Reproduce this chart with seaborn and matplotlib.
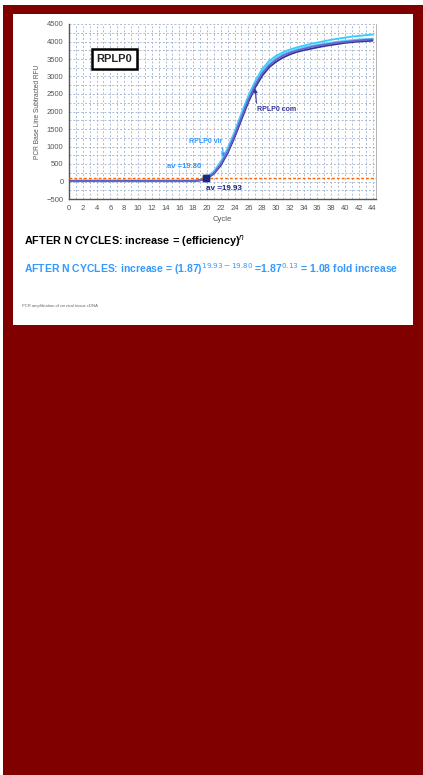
import numpy as np
import pandas as pd
import matplotlib
matplotlib.use("Agg")
import matplotlib.pyplot as plt
from matplotlib.patches import Rectangle
from matplotlib.ticker import MultipleLocator
import seaborn as sns

# Cycle numbers and baseline-subtracted RFU
cycles = list(range(0, 45))
vir1 = [30] * 19 + [50, 130, 290, 570, 950, 1420, 1950, 2450, 2870, 3210, 3440, 3590, 3690,
                    3770, 3830, 3880, 3930, 3970, 4010, 4050, 4080, 4110, 4140, 4160, 4180, 4200]
vir2 = [20] * 19 + [45, 120, 275, 545, 910, 1370, 1890, 2380, 2800, 3140, 3380, 3540, 3640,
                    3720, 3780, 3830, 3870, 3910, 3940, 3970, 4000, 4020, 4040, 4060, 4070, 4080]
com1 = [10] * 19 + [30, 90, 220, 460, 810, 1260, 1770, 2270, 2690, 3020, 3260, 3420, 3540,
                    3630, 3700, 3750, 3790, 3830, 3870, 3900, 3930, 3960, 3980, 4000, 4010, 4020]
com2 = [10] * 19 + [35, 100, 240, 500, 860, 1320, 1840, 2340, 2760, 3090, 3320, 3480, 3600,
                    3680, 3740, 3790, 3840, 3880, 3910, 3940, 3970, 3990, 4010, 4030, 4050, 4060]
seriesNames = ["RPLP0 vir 1", "RPLP0 vir 2", "RPLP0 com 1", "RPLP0 com 2"]
seriesColors = ["#33ccff", "#66ccff", "#333399", "#6666cc"]

threshold = 100
ctVir = 19.80
ctCom = 19.93
yTicks = list(range(-500, 5000, 500))
xTicks = list(range(0, 46, 2))

# long format for seaborn
rows = []
for name, vals in zip(seriesNames, [vir1, vir2, com1, com2]):
    for c, v in zip(cycles, vals):
        rows.append({"Cycle": c, "RFU": v, "Series": name})
df = pd.DataFrame(rows)

sns.set_style("white")
plt.rcParams['font.family'] = ['Liberation Sans', 'DejaVu Sans']

fig = plt.figure(figsize=(4.23, 7.75), dpi=100)
fig.patch.set_facecolor("white")

# dark red page and white panel behind the chart
fig.patches.append(Rectangle((3 / 423, 0), 1, 1 - 5 / 775, transform=fig.transFigure,
                             facecolor="#800000", edgecolor="none", zorder=-2))
fig.patches.append(Rectangle((13 / 423, 1 - 325 / 775), 400 / 423, 311 / 775,
                             transform=fig.transFigure, facecolor="white",
                             edgecolor="none", zorder=-1))

ax = fig.add_axes([69 / 423, 1 - 199 / 775, 307 / 423, 175 / 775])
ax.set_facecolor("white")

sns.lineplot(data=df, x="Cycle", y="RFU", hue="Series",
             palette=dict(zip(seriesNames, seriesColors)), linewidth=1.3,
             legend=False, ax=ax)

ax.set_xlim(0, 44.5)
ax.set_ylim(-500, 4500)
ax.set_xticks([t for t in xTicks if t <= 44])
ax.set_yticks(yTicks)
ax.xaxis.set_minor_locator(MultipleLocator(1))
ax.yaxis.set_minor_locator(MultipleLocator(250))
ax.grid(which="both", color="#aabbd4", linestyle=(0, (2, 2)), linewidth=0.7)
ax.set_axisbelow(True)
ax.tick_params(axis="both", which="major", labelsize=5.5, colors="#555555",
               length=2, width=0.6, pad=2)
ax.tick_params(axis="both", which="minor", length=0)
for side in ["left", "bottom"]:
    ax.spines[side].set_color("#555555")
    ax.spines[side].set_linewidth(1.0)
ax.spines["top"].set_visible(False)
ax.spines["right"].set_color("#aaaaaa")
ax.spines["right"].set_linewidth(0.6)
ax.set_xlabel("Cycle", fontsize=5.5, color="#555555", labelpad=3)
ax.set_ylabel("PCR Base Line Subtracted RFU", fontsize=4.8, color="#555555", labelpad=4)

# threshold line and Ct markers
ax.axhline(threshold, color="#ff6600", linestyle=(0, (2, 1.5)), linewidth=1.0, zorder=3)
ax.plot([ctVir, ctCom], [threshold, threshold], marker="s", markersize=4,
        color="#1a2a80", linestyle="none", zorder=5)

ax.text(6.6, 3490, "RPLP0", fontsize=8, fontweight="bold", ha="center", va="center",
        bbox=dict(boxstyle="square,pad=0.45", facecolor="white", edgecolor="black",
                  linewidth=1.8))
ax.annotate("RPLP0 com", xy=(27.0, 2650), xytext=(27.2, 2050), fontsize=5,
            color="#333399", fontweight="bold", ha="left", va="center",
            arrowprops=dict(arrowstyle="-|>", color="#333399", lw=0.8,
                            mutation_scale=5, shrinkA=0, shrinkB=0,
                            relpos=(0, 1)))
ax.annotate("RPLP0 vir", xy=(22.4, 700), xytext=(22.2, 1150), fontsize=5,
            color="#3399ff", fontweight="bold", ha="right", va="center",
            arrowprops=dict(arrowstyle="-|>", color="#3399ff", lw=0.8,
                            mutation_scale=5, shrinkA=0, shrinkB=0,
                            relpos=(1, 0)))
ax.text(19.2, 420, "av =19.80", fontsize=5.5, color="#3399ff", fontweight="bold",
        ha="right", va="center")
ax.text(19.8, -190, "av =19.93", fontsize=5.8, color="#1a2a80", fontweight="bold",
        ha="left", va="center")

# formula text under the chart
fig.text(24 / 423, 1 - 241 / 775, "AFTER N CYCLES: increase = (efficiency)$^{n}$",
         fontsize=7.8, fontweight="bold", color="black", va="center")
fig.text(24 / 423, 1 - 269 / 775,
         "AFTER N CYCLES: increase = (1.87)$^{19.93-19.80}$ =1.87$^{0.13}$ = 1.08 fold increase",
         fontsize=7.5, fontweight="bold", color="#3399ff", va="center")
fig.text(22 / 423, 1 - 306 / 775, "PCR amplification of cervical tissue cDNA",
         fontsize=3, color="#666666", va="center")

fig.savefig("out.png", dpi=100, facecolor=fig.get_facecolor())
